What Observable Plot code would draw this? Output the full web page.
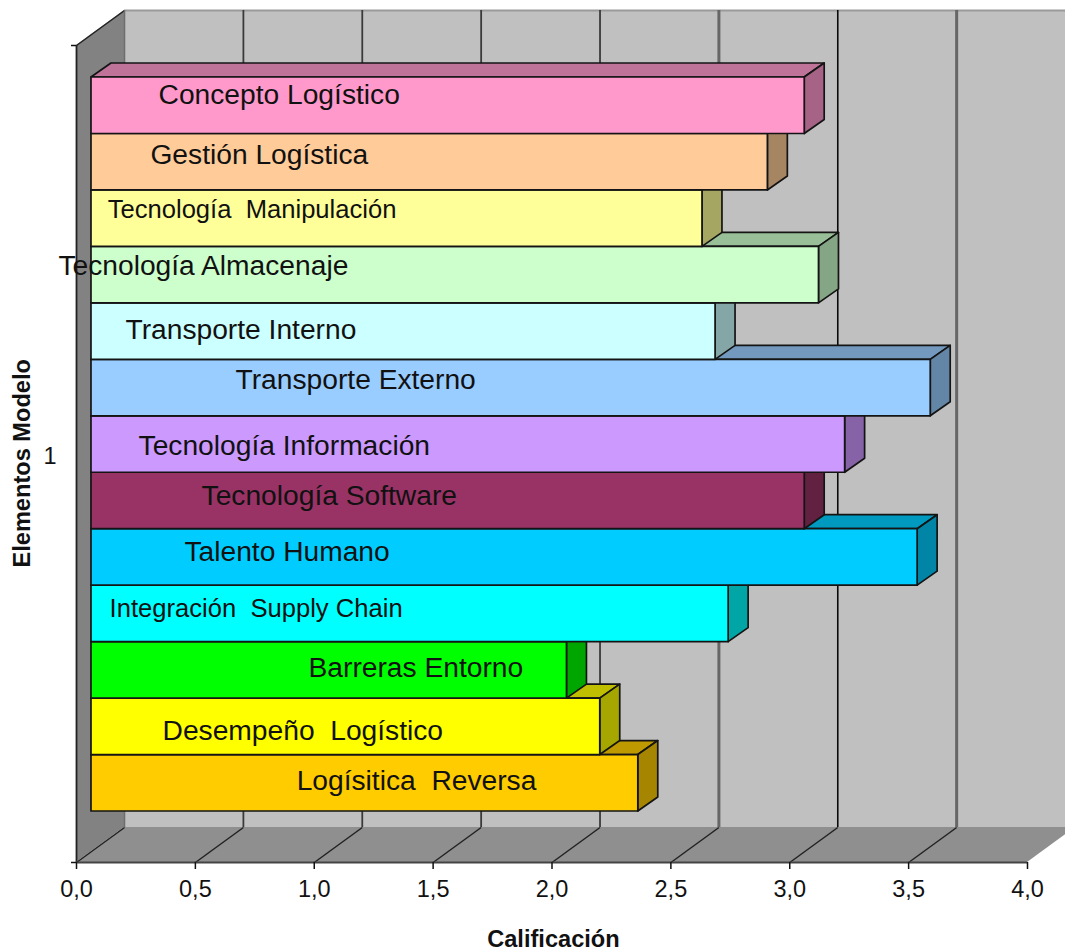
<!DOCTYPE html>
<html>
<head>
<meta charset="utf-8">
<script src="https://cdn.jsdelivr.net/npm/d3@7"></script>
<script src="https://cdn.jsdelivr.net/npm/@observablehq/plot@0.6"></script>
<style>
  html, body { margin: 0; padding: 0; background: #fff; overflow: hidden; }
</style>
</head>
<body>
<div id="chart"></div>
<script>
// Model elements, top to bottom, with their scores
const elementos = ["Concepto Logístico", "Gestión Logística", "Tecnología  Manipulación", "Tecnología Almacenaje",
  "Transporte Interno", "Transporte Externo", "Tecnología Información", "Tecnología Software", "Talento Humano",
  "Integración  Supply Chain", "Barreras Entorno", "Desempeño  Logístico", "Logísitica  Reversa"];
const calificaciones = [3.0, 2.845, 2.57, 3.06, 2.625, 3.53, 3.17, 3.0, 3.475, 2.68, 2.0, 2.14, 2.30];
const colores = ["#FF99CC", "#FFCC99", "#FFFF99", "#CCFFCC", "#CCFFFF", "#99CCFF", "#CC99FF", "#993366",
  "#00CCFF", "#00FFFF", "#00FF00", "#FFFF00", "#FFCC00"];

// Where each free-floating label starts, in score units, and its centre in row units
const etiquetaX = [0.345, 0.311, 0.131, -0.076, 0.206, 0.669, 0.261, 0.526, 0.454, 0.139, 0.976, 0.362, 0.926];
const etiquetaFila = [13.585, 12.52, 11.55, 10.55, 9.42, 8.53, 7.36, 6.48, 5.48, 4.48, 3.42, 2.32, 1.43];
const etiquetasPequenas = new Set(["Tecnología  Manipulación", "Integración  Supply Chain"]);

const marcasX = [0, 0.5, 1, 1.5, 2, 2.5, 3, 3.5, 4];

// Oblique projection of the box, in score units (x) and bar rows (y)
const filas = 15.09;          // full height of the y domain
const filaPiso = 0;           // front edge of the floor
const filaTecho = 14.47;      // top of the front edge of the side wall
const fondoX = 0.202, fondoY = 0.62;   // depth of the box
const barraX = 0.084, barraY = 0.248;  // depth of a bar
const inicioX = 0.063;        // bars stand slightly inside the box
const huecoInferior = 0.903;  // floor-to-first-bar gap

// A four-sided face as a two-point area: a→b forward, d→c back
const cara = (a, b, c, d, options) => Plot.area(
  [{x1: a[0], y1: a[1], x2: d[0], y2: d[1]}, {x1: b[0], y1: b[1], x2: c[0], y2: c[1]}],
  {x1: "x1", y1: "y1", x2: "x2", y2: "y2", ...options}
);

const oscurecer = (color, k) => {
  const c = d3.rgb(color);
  return d3.rgb(c.r * k, c.g * k, c.b * k).formatHex();
};

const borde = {stroke: "#141414", strokeWidth: 1.7, strokeLinejoin: "round"};

// Lines on the back wall and floor; alternate weights as drawn by the renderer
const rejilla = marcasX.slice(1).filter((v) => v < 4).map((v) => ({v}));
const rejillaEstilo = (v) => (v === 2.5 || v === 3.5)
  ? {stroke: "#666", strokeWidth: 3}
  : v === 3 ? {stroke: "#0a0a0a", strokeWidth: 1.6} : {stroke: "#3a3a3a", strokeWidth: 1.8};

const caja = [
  // back wall
  cara([fondoX, filaPiso + fondoY], [4 + fondoX, filaPiso + fondoY],
       [4 + fondoX, filaTecho + fondoY], [fondoX, filaTecho + fondoY], {fill: "#c0c0c0"}),
  Plot.ruleY([filaTecho + fondoY], {x1: fondoX, x2: 4 + fondoX, stroke: "#999", strokeWidth: 2}),
  // left wall
  cara([0, filaPiso], [fondoX, filaPiso + fondoY], [fondoX, filaTecho + fondoY], [0, filaTecho], {fill: "#828282"}),
  // floor
  cara([0, filaPiso], [4, filaPiso], [4 + fondoX, filaPiso + fondoY], [fondoX, filaPiso + fondoY], {fill: "#8f8f8f"}),
  // grid
  ...rejilla.flatMap(({v}) => [
    Plot.ruleX([v + fondoX], {y1: filaPiso + fondoY, y2: filaTecho + fondoY, ...rejillaEstilo(v)}),
    Plot.link([v], {x1: (d) => d, y1: filaPiso, x2: (d) => d + fondoX, y2: filaPiso + fondoY,
      stroke: "#222", strokeWidth: 1.5})
  ]),
  // box edges
  Plot.link([0], {x1: 0, y1: filaPiso, x2: fondoX, y2: filaPiso + fondoY, stroke: "#222", strokeWidth: 1.5}),
  Plot.link([0], {x1: 0, y1: filaTecho, x2: fondoX, y2: filaTecho + fondoY, stroke: "#222", strokeWidth: 1.5}),
  Plot.ruleX([0], {y1: filaPiso, y2: filaTecho, stroke: "#222", strokeWidth: 1.8}),
  Plot.ruleX([fondoX], {y1: filaPiso + fondoY, y2: filaTecho + fondoY, stroke: "#6e6e6e", strokeWidth: 1.5}),
  Plot.ruleY([filaPiso], {x1: 0, x2: 4, stroke: "#444", strokeWidth: 2})
];

// Bars go from the lowest up, so each one covers the top face of the bar beneath it
const barras = d3.range(elementos.length - 1, -1, -1).flatMap((i) => {
  const abajo = huecoInferior + (elementos.length - 1 - i);
  const arriba = abajo + 1;
  const fin = inicioX + calificaciones[i];
  const c = colores[i];
  return [
    cara([inicioX, arriba], [fin, arriba], [fin + barraX, arriba + barraY], [inicioX + barraX, arriba + barraY],
      {fill: oscurecer(c, 0.75), ...borde}),
    cara([fin, abajo], [fin + barraX, abajo + barraY], [fin + barraX, arriba + barraY], [fin, arriba],
      {fill: oscurecer(c, 0.65), ...borde}),
    Plot.rect([i], {x1: inicioX, x2: fin, y1: abajo, y2: arriba, fill: c, ...borde})
  ];
});

const etiquetas = (filtro, fontSize) => Plot.text(
  d3.range(elementos.length).filter(filtro),
  {
    x: (i) => etiquetaX[i],
    y: (i) => etiquetaFila[i],
    text: (i) => elementos[i],
    textAnchor: "start",
    lineAnchor: "middle",
    dy: -1,
    fontSize,
    fill: "#111"
  }
);

const chart = Plot.plot({
  width: 1065,
  height: 951,
  marginLeft: 76,
  marginRight: 38,
  marginTop: 10,
  marginBottom: 89,
  style: {fontFamily: "'Liberation Sans', Arial, sans-serif", background: "#fff", color: "#111"},
  x: {domain: [0, 4]},
  y: {domain: [0, filas]},
  marks: [
    ...caja,
    ...barras,
    etiquetas((i) => !etiquetasPequenas.has(elementos[i]), 28.2),
    etiquetas((i) => etiquetasPequenas.has(elementos[i]), 25.6),
    Plot.axisX({
      ticks: marcasX,
      tickFormat: (d) => d.toFixed(1).replace(".", ","),
      tickSize: 7,
      tickPadding: 11,
      fontSize: 23.5,
      label: null,
      stroke: "#111",
      strokeWidth: 1.5
    }),
    Plot.axisY({ticks: [filaPiso, filaTecho], tickFormat: () => "", tickSize: 5, label: null, stroke: "#111", strokeWidth: 1.5}),
    Plot.axisY({ticks: [7.2], tickFormat: () => "1", tickSize: 0, tickPadding: 20, fontSize: 23.5, label: null}),
    Plot.text(["Calificación"], {
      x: 2.006, frameAnchor: "bottom", dy: 84, text: (d) => d,
      fontSize: 23.6, fontWeight: "bold", fill: "#111"
    }),
    Plot.text(["Elementos Modelo"], {
      y: 7.07, frameAnchor: "left", dx: -54, rotate: -90, textAnchor: "middle", text: (d) => d,
      fontSize: 23.6, fontWeight: "bold", fill: "#111"
    })
  ]
});

document.getElementById("chart").appendChild(chart);
</script>
</body>
</html>
